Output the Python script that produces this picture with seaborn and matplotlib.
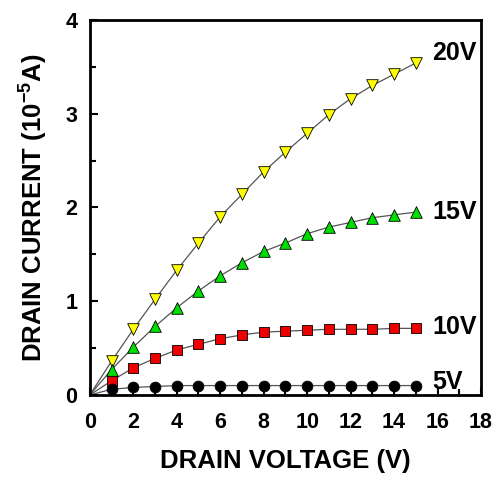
import numpy as np
import pandas as pd
import seaborn as sns
import matplotlib.pyplot as plt
from matplotlib.ticker import MultipleLocator

# drain voltage points (V)
vd = [1, 2, 3, 4, 5, 6, 7, 8, 9, 10, 11, 12, 13, 14, 15]

# drain current (1e-5 A) for each gate voltage
id_20v = [0.36, 0.70, 1.02, 1.33, 1.62, 1.90, 2.14, 2.38, 2.59, 2.79, 2.99, 3.16, 3.30, 3.42, 3.54]
id_15v = [0.27, 0.51, 0.73, 0.93, 1.11, 1.27, 1.41, 1.53, 1.62, 1.72, 1.79, 1.84, 1.89, 1.92, 1.95]
id_10v = [0.15, 0.29, 0.39, 0.48, 0.54, 0.60, 0.64, 0.67, 0.68, 0.69, 0.70, 0.70, 0.70, 0.71, 0.71]
id_5v = [0.06, 0.08, 0.09, 0.10, 0.10, 0.10, 0.10, 0.10, 0.10, 0.10, 0.10, 0.10, 0.10, 0.10, 0.10]

gate_labels = ['20V', '15V', '10V', '5V']
series = [id_20v, id_15v, id_10v, id_5v]
colors = ['#ffff00', '#00dd00', '#ee0000', '#000000']
markers = ['v', '^', 's', 'o']
msizes = [70, 70, 50, 60]
label_dy = [0.11, 0.0, 0.01, 0.04]  # small nudge of the end labels

sns.set_style('ticks')
plt.rcParams['font.family'] = ['Liberation Sans', 'DejaVu Sans']
plt.rcParams['font.weight'] = 'bold'
plt.rcParams['text.color'] = 'black'
plt.rcParams['axes.labelcolor'] = 'black'
plt.rcParams['mathtext.fontset'] = 'custom'
plt.rcParams['mathtext.bf'] = 'Liberation Sans:bold'

fig = plt.figure(figsize=(4.99, 4.84), dpi=100)
ax = fig.add_axes([0.180, 0.184, 0.784, 0.775])

for lab, ys, c, m, s, dy in zip(gate_labels, series, colors, markers, msizes, label_dy):
    df = pd.DataFrame({'vd': [0] + vd, 'id': [0] + ys})
    sns.lineplot(data=df, x='vd', y='id', ax=ax, color='#555555', lw=0.9, zorder=2)
    sns.scatterplot(x=vd, y=ys, ax=ax, marker=m, color=c, s=s,
                    edgecolor='black', linewidth=0.6, zorder=3)
    ax.text(15.75, ys[-1] + dy, lab, fontsize=18, fontweight='bold', va='center', ha='left',
            color='black')

ax.set_xlim(0, 18)
ax.set_ylim(0, 4)
ax.xaxis.set_major_locator(MultipleLocator(2))
ax.xaxis.set_minor_locator(MultipleLocator(1))
ax.yaxis.set_major_locator(MultipleLocator(1))
ax.yaxis.set_minor_locator(MultipleLocator(0.5))
ax.tick_params(which='both', direction='in', width=1.5, top=False, right=False,
               labelsize=15.5, colors='black')
ax.tick_params(which='major', length=6)
ax.tick_params(axis='x', which='major', pad=12)
ax.tick_params(axis='y', which='major', pad=9)
ax.tick_params(which='minor', length=4)
for t in ax.get_xticklabels() + ax.get_yticklabels():
    t.set_fontweight('bold')
for sp in ax.spines.values():
    sp.set_visible(True)
    sp.set_linewidth(2)
    sp.set_color('black')

ax.set_xlabel('DRAIN VOLTAGE (V)', fontsize=18.5, fontweight='bold', labelpad=12)
ax.set_ylabel(r'DRAIN CURRENT (10$^{\mathbf{-5}}$A)', fontsize=18.5, fontweight='bold', labelpad=12)

fig.savefig('out.png', dpi=100)
